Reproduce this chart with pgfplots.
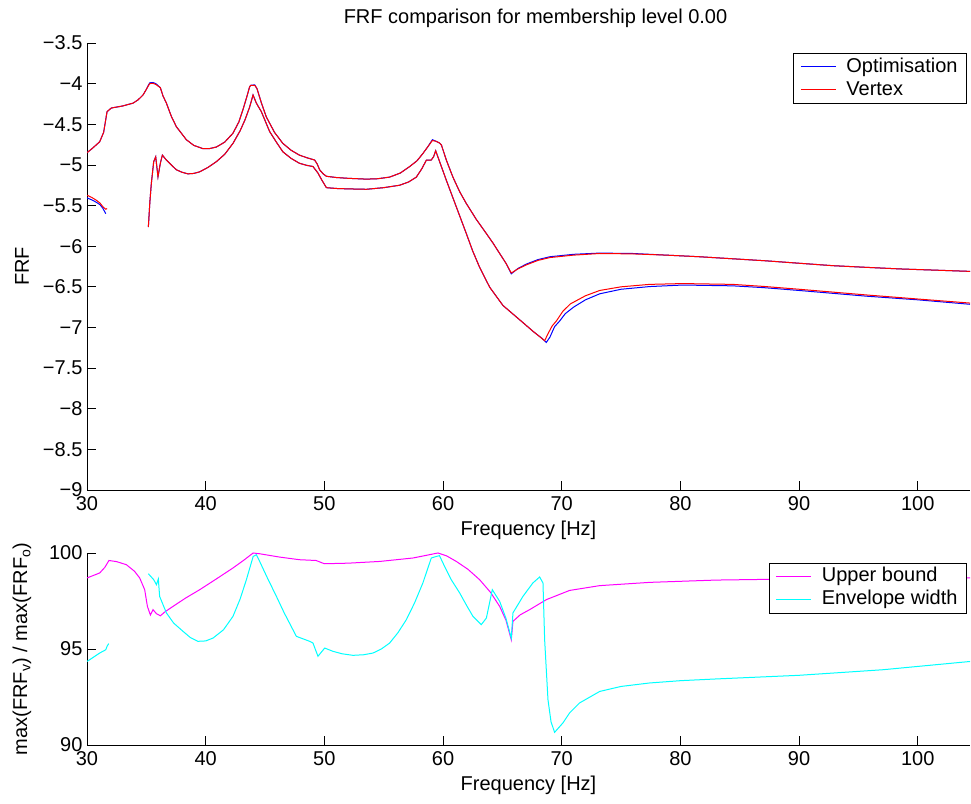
\documentclass[border=0pt]{standalone}
\usepackage{fontspec}
\setmainfont{Liberation Sans}
\usepackage{pgfplots}
\pgfplotsset{compat=1.18}
\definecolor{mblue}{RGB}{0,0,255}
\definecolor{mred}{RGB}{255,0,0}
\definecolor{mmag}{RGB}{255,0,255}
\definecolor{mcyan}{RGB}{0,255,255}
\pgfplotsset{
  legend image code/.code={\draw[#1] (0pt,0pt) -- (35pt,0pt);},
}

\begin{document}
\begin{tikzpicture}[x=1pt,y=1pt,font=\fontsize{20}{24}\selectfont]
\pgfplotsset{
  myaxis/.style={
    scale only axis, width=883pt,
    xmin=30, xmax=104.4,
    axis x line*=bottom, axis y line*=left,
    axis line style={-, line width=0.8pt},
    tick align=inside, major tick length=9pt,
    tick style={line width=0.8pt, black},
    xtick={30,40,...,100},
    /pgf/number format/assume math mode=true,
    ticklabel style={font=\fontsize{20}{24}\selectfont},
    xticklabel style={yshift=-3pt},
    yticklabel style={xshift=-1pt},
    unbounded coords=jump,
    legend cell align=left,
    every axis plot/.append style={line width=1pt},
    legend style={anchor=north east, font=\fontsize{20}{24}\selectfont,
      inner xsep=7pt, inner ysep=2pt, row sep=0pt,
      nodes={inner sep=2pt, text height=15pt, text depth=4pt},
      /tikz/every odd column/.append style={column sep=8pt}},
  }
}
\begin{axis}[myaxis,
  at={(87pt,313pt)}, anchor=south west, height=447pt,
  ymin=-9, ymax=-3.5,
  ytick={-9,-8.5,-8,-7.5,-7,-6.5,-6,-5.5,-5,-4.5,-4,-3.5},
  yticklabels={−9,−8.5,−8,−7.5,−7,−6.5,−6,−5.5,−5,−4.5,−4,−3.5},
  xlabel={Frequency [Hz]}, ylabel={FRF},
  xlabel style={at={(axis description cs:0.5,-0.09)}, anchor=center},
  ylabel style={at={(axis description cs:-0.0736,0.5)}, anchor=center, rotate=0},
  title={FRF comparison for membership level 0.00},
  title style={at={(axis description cs:0.5,1)}, anchor=center, yshift=19pt, xshift=7pt},
  legend style={at={(0.9963,0.977)}},
]
% Optimisation (blue)
\addplot[mblue] coordinates {
(30,-4.85)(30.5,-4.79)(31.07,-4.715)(31.4,-4.6)(31.69,-4.345)(32.05,-4.30)(33,-4.275)(33.88,-4.24)(34.3,-4.20)(34.72,-4.14)(35.0,-4.07)(35.28,-3.99)(35.56,-3.986)(35.8,-4.0)(36.18,-4.05)(36.4,-4.15)(36.69,-4.24)(37.1,-4.40)(37.53,-4.53)(38.37,-4.69)(39.0,-4.76)(39.77,-4.80)(40.3,-4.80)(40.9,-4.78)(41.6,-4.72)(42.3,-4.61)(42.8,-4.47)(43.14,-4.32)(43.45,-4.17)(43.7,-4.04)(43.8,-4.02)(44.13,-4.015)(44.32,-4.06)(44.7,-4.24)(45.11,-4.41)(45.8,-4.60)(46.5,-4.735)(47.2,-4.82)(47.9,-4.88)(48.6,-4.915)(49.18,-4.94)(49.4,-4.99)(49.6,-5.06)(49.9,-5.11)(50.17,-5.14)(51,-5.155)(52,-5.165)(53.54,-5.175)(54.5,-5.17)(55.5,-5.15)(56.4,-5.10)(57.19,-5.02)(57.8,-4.95)(58.3,-4.86)(58.7,-4.78)(59.1,-4.69)(59.43,-4.71)(59.7,-4.73)(59.86,-4.755)(60.3,-4.95)(60.83,-5.15)(61.4,-5.33)(61.96,-5.475)(62.8,-5.67)(63.65,-5.845)(64.2,-5.96)(64.77,-6.09)(65.3,-6.21)(65.75,-6.34)(66.3,-6.275)(67.02,-6.22)(68,-6.165)(69.0,-6.13)(71,-6.10)(73.2,-6.085)(76.0,-6.09)(78.8,-6.11)(81.6,-6.13)(84.4,-6.155)(87.2,-6.18)(90,-6.21)(92.85,-6.24)(95.6,-6.26)(98.5,-6.28)(101.5,-6.295)(104.4,-6.31)
};
\addlegendentry{Optimisation}
\addplot[mred] coordinates {
(30,-4.85)(30.5,-4.79)(31.07,-4.715)(31.4,-4.6)(31.69,-4.345)(32.05,-4.30)(33,-4.275)(33.88,-4.24)(34.3,-4.20)(34.72,-4.14)(35.0,-4.07)(35.28,-4.0)(35.56,-3.996)(35.8,-4.01)(36.18,-4.05)(36.4,-4.15)(36.69,-4.24)(37.1,-4.40)(37.53,-4.53)(38.37,-4.69)(39.0,-4.76)(39.77,-4.80)(40.3,-4.80)(40.9,-4.78)(41.6,-4.72)(42.3,-4.61)(42.8,-4.47)(43.14,-4.32)(43.45,-4.17)(43.7,-4.04)(43.8,-4.02)(44.13,-4.02)(44.32,-4.06)(44.7,-4.24)(45.11,-4.41)(45.8,-4.60)(46.5,-4.735)(47.2,-4.82)(47.9,-4.88)(48.6,-4.915)(49.18,-4.94)(49.4,-4.99)(49.6,-5.06)(49.9,-5.11)(50.17,-5.14)(51,-5.155)(52,-5.165)(53.54,-5.175)(54.5,-5.17)(55.5,-5.15)(56.4,-5.10)(57.19,-5.02)(57.8,-4.95)(58.3,-4.86)(58.7,-4.78)(59.1,-4.70)(59.43,-4.71)(59.7,-4.73)(59.86,-4.755)(60.3,-4.95)(60.83,-5.15)(61.4,-5.33)(61.96,-5.475)(62.8,-5.67)(63.65,-5.845)(64.2,-5.96)(64.77,-6.09)(65.3,-6.21)(65.75,-6.33)(66.3,-6.28)(67.02,-6.23)(68,-6.175)(69.0,-6.14)(71,-6.11)(73.2,-6.09)(76.0,-6.095)(78.8,-6.11)(81.6,-6.13)(84.4,-6.155)(87.2,-6.18)(90,-6.21)(92.85,-6.24)(95.6,-6.26)(98.5,-6.28)(101.5,-6.295)(104.4,-6.31)
};
\addlegendentry{Vertex}
% lower bound, blue
\addplot[mblue, forget plot] coordinates {
(30,-5.406)(30.4,-5.43)(30.79,-5.46)(31.1,-5.49)(31.35,-5.537)(31.58,-5.6)
(33,nan)
(35.17,-5.764)(35.3,-5.45)(35.42,-5.23)(35.62,-4.96)(35.79,-4.90)(35.98,-5.147)(36.18,-4.98)(36.35,-4.88)(36.69,-4.94)(37.1,-5.00)(37.53,-5.06)(38.0,-5.09)(38.5,-5.11)(39.0,-5.105)(39.5,-5.085)(40.2,-5.03)(40.9,-4.96)(41.6,-4.87)(42.3,-4.735)(42.9,-4.58)(43.3,-4.45)(43.7,-4.29)(43.99,-4.14)(44.27,-4.24)(44.69,-4.345)(45.39,-4.59)(46.0,-4.73)(46.51,-4.84)(47.2,-4.92)(47.9,-4.98)(48.5,-5.005)(49.04,-5.02)(49.46,-5.10)(49.8,-5.19)(50.17,-5.28)(51.0,-5.29)(52,-5.295)(53.54,-5.30)(55,-5.28)(56.34,-5.25)(57.1,-5.21)(57.75,-5.15)(58.2,-5.05)(58.6,-4.94)(59.0,-4.94)(59.2,-4.90)(59.38,-4.826)(59.71,-4.96)(60.28,-5.19)(61.1,-5.51)(61.96,-5.845)(62.5,-6.06)(63.08,-6.26)(63.93,-6.505)(65.05,-6.73)(66.73,-6.94)(67.6,-7.05)(68.3,-7.13)(68.7,-7.184)(69.0,-7.12)(69.4,-6.99)(69.83,-6.92)(70.3,-6.83)(71.0,-6.75)(72,-6.66)(73.2,-6.586)(75,-6.53)(77.4,-6.497)(80.2,-6.478)(84.4,-6.488)(87,-6.51)(90,-6.545)(95.66,-6.615)(100,-6.66)(104.4,-6.715)
};
% lower bound, red
\addplot[mred, forget plot] coordinates {
(30,-5.373)(30.4,-5.40)(30.79,-5.435)(31.1,-5.47)(31.35,-5.517)(31.58,-5.545)(31.69,-5.537)
(33,nan)
(35.17,-5.764)(35.3,-5.45)(35.42,-5.23)(35.62,-4.96)(35.79,-4.90)(35.98,-5.147)(36.18,-4.98)(36.35,-4.88)(36.69,-4.94)(37.1,-5.00)(37.53,-5.06)(38.0,-5.09)(38.5,-5.11)(39.0,-5.105)(39.5,-5.085)(40.2,-5.03)(40.9,-4.96)(41.6,-4.87)(42.3,-4.735)(42.9,-4.58)(43.3,-4.45)(43.7,-4.29)(43.99,-4.14)(44.27,-4.24)(44.69,-4.345)(45.39,-4.59)(46.0,-4.73)(46.51,-4.84)(47.2,-4.92)(47.9,-4.98)(48.5,-5.005)(49.04,-5.02)(49.46,-5.10)(49.8,-5.19)(50.17,-5.28)(51.0,-5.29)(52,-5.295)(53.54,-5.30)(55,-5.28)(56.34,-5.25)(57.1,-5.21)(57.75,-5.15)(58.2,-5.05)(58.6,-4.94)(59.0,-4.94)(59.2,-4.90)(59.38,-4.826)(59.71,-4.96)(60.28,-5.19)(61.1,-5.51)(61.96,-5.845)(62.5,-6.06)(63.08,-6.26)(63.93,-6.505)(65.05,-6.73)(66.73,-6.94)(67.6,-7.05)(68.2,-7.12)(68.56,-7.163)(68.9,-7.06)(69.2,-6.98)(69.55,-6.92)(70.1,-6.80)(70.73,-6.71)(72,-6.61)(73.2,-6.545)(75,-6.50)(77.4,-6.47)(80.2,-6.46)(84.4,-6.47)(87,-6.495)(90,-6.53)(95.66,-6.60)(100,-6.65)(104.4,-6.70)
};
\end{axis}

\begin{axis}[myaxis,
  at={(87pt,58pt)}, anchor=south west, height=192pt,
  ymin=90, ymax=100, ytick={90,95,100},
  xlabel={Frequency [Hz]}, ylabel={max(FRF\textsubscript{v}) / max(FRF\textsubscript{o})},
  xlabel style={at={(axis description cs:0.5,-0.21)}, anchor=center},
  ylabel style={at={(axis description cs:-0.0736,0.5)}, anchor=center, rotate=0},
  legend style={at={(0.9963,0.9495)}},
]
\addplot[mmag] coordinates {
(30,98.70)(31.07,98.96)(31.5,99.25)(31.85,99.61)(32.5,99.55)(33.32,99.39)(34.0,99.05)(34.44,98.70)(34.86,98.09)(35.09,97.22)(35.34,96.77)(35.56,97.05)(35.85,96.84)(36.18,96.73)(36.6,96.95)(37.25,97.22)(38.3,97.65)(39.5,98.09)(40.9,98.65)(42.3,99.22)(43.2,99.62)(44.0,100)(44.55,99.96)(46.2,99.79)(47.9,99.65)(49.3,99.61)(50.0,99.44)(52,99.47)(54.66,99.56)(57.47,99.74)(59.57,100)(60.3,99.85)(61.12,99.56)(62.1,99.15)(63.08,98.61)(64.0,97.95)(64.77,97.22)(65.3,96.5)(65.75,95.48)(65.89,96.44)(66.5,96.78)(67.3,97.05)(68.7,97.57)(70.66,98.05)(73.2,98.30)(77.4,98.47)(83.0,98.59)(90,98.65)(97,98.69)(104.4,98.70)
};
\addlegendentry{Upper bound}
\addplot[mcyan] coordinates {
(30,94.35)(31.07,94.79)(31.58,94.96)(31.69,95.14)(31.83,95.28)
(33,nan)
(35.17,98.92)(35.62,98.61)(35.85,98.35)(36.01,98.65)(36.12,97.74)(36.69,96.88)(37.3,96.35)(38.09,95.92)(38.7,95.6)(39.35,95.40)(40.0,95.42)(40.62,95.57)(41.5,96.0)(42.3,96.70)(42.9,97.6)(43.43,98.61)(44.0,99.82)(44.27,99.91)(44.55,99.56)(45.2,98.7)(45.96,97.74)(46.6,96.9)(47.64,95.66)(48.76,95.40)(49.04,95.31)(49.46,94.62)(50.03,95.05)(50.72,94.88)(51.5,94.75)(52.41,94.67)(53.3,94.7)(54.1,94.79)(54.8,95.0)(55.5,95.31)(56.2,95.85)(56.91,96.53)(57.6,97.4)(58.3,98.44)(59.01,99.74)(59.43,99.82)(59.7,99.86)(60.13,99.30)(60.7,98.6)(61.4,97.92)(62.0,97.25)(62.52,96.70)(63.22,96.27)(63.65,96.61)(64.15,98.09)(64.77,97.48)(65.3,96.6)(65.75,95.57)(65.89,96.88)(66.3,97.3)(66.73,97.74)(67.57,98.44)(68.14,98.75)(68.42,98.44)(68.56,95.48)(68.84,92.36)(69.1,91.2)(69.4,90.66)(70.1,91.15)(70.66,91.67)(71.5,92.19)(73.2,92.79)(75,93.05)(77.4,93.23)(80,93.35)(83.0,93.44)(90.0,93.63)(97.06,93.92)(104.4,94.35)
};
\addlegendentry{Envelope width}
\end{axis}
\pgfresetboundingbox
\path (0,0) rectangle (971,803);
\end{tikzpicture}
\end{document}
